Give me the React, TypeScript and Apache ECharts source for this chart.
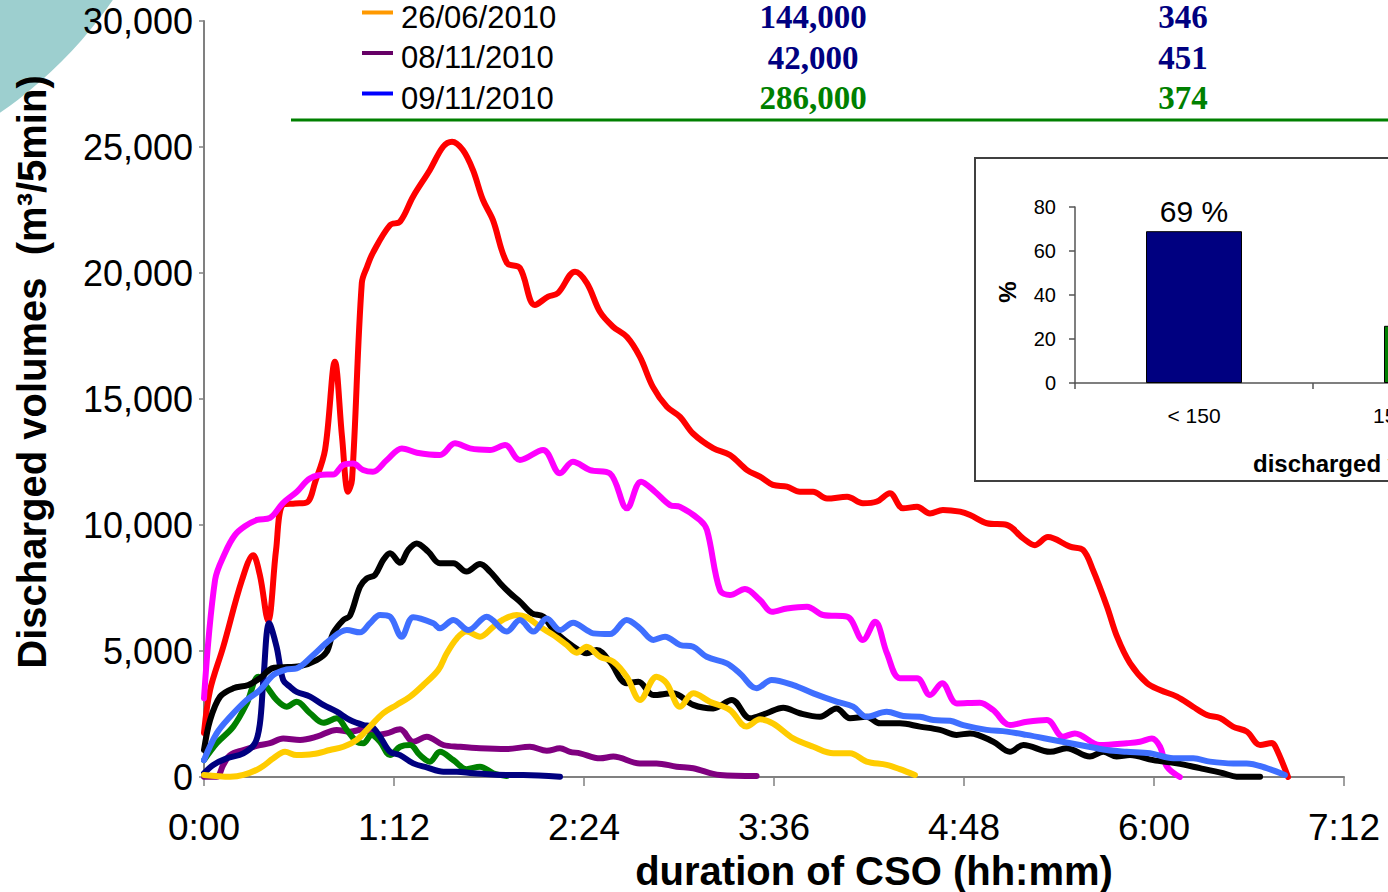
import React, { useEffect, useRef } from "react";
import * as echarts from "echarts";

// ---------- DATA (x = minutes since start of CSO, y = m3 per 5 min) ----------
const xTickStep = 72; // minutes between tick labels (1:12)
const xMaxMinutes = 432; // 7:12
const yMaxVolume = 30000;
const yStep = 5000;

const redSeries: [number, number][] = [
  [0, 1750], [2.3, 3450], [7.3, 5170], [14.4, 7820], [18.6, 8800], [21.2, 8000], [24.3, 6200],
  [27.3, 9000], [29.9, 10800], [34.5, 10850], [39.0, 10900], [42.1, 11700], [45.9, 13000],
  [49.6, 16480], [52.3, 13500], [54.6, 11320], [56.1, 11800], [59.8, 19600], [61.8, 20250],
  [64.0, 20800], [70.5, 21900], [74.3, 22040], [79.2, 23030], [85.6, 24090], [90.6, 25010],
  [94.0, 25210], [98.1, 24880], [101.9, 24090], [105.7, 22900], [109.5, 22100], [114.8, 20400],
  [119.7, 20200], [125.4, 18730], [130.4, 19060], [134.1, 19200], [140.6, 20050], [145.1, 19600],
  [150.1, 18450], [155.0, 17870], [160.3, 17460], [165.2, 16670], [170.1, 15480], [175.4, 14690],
  [180.4, 14290], [185.3, 13630], [192.9, 13050], [199.3, 12780], [205.8, 12180], [210.7, 11920],
  [215.6, 11590], [220.9, 11520], [225.8, 11320], [230.8, 11320], [236.1, 11050], [243.7, 11120],
  [249.7, 10860], [255.0, 10930], [259.9, 11260], [264.9, 10660], [270.2, 10720], [275.1, 10460],
  [280.0, 10600], [286.5, 10530], [290.3, 10400], [296.7, 10070], [304.3, 10000], [310.3, 9480],
  [314.9, 9200], [319.8, 9520], [328.2, 9140], [333.1, 9010], [336.9, 8210], [342.2, 6760],
  [346.0, 5570], [350.9, 4520], [357.3, 3730], [362.3, 3450], [368.7, 3190], [374.8, 2790],
  [380.1, 2460], [385.0, 2340], [389.9, 2000], [395.2, 1800], [400.2, 1270], [404.7, 1350],
  [406.6, 1070], [410.8, 0],
];

const magentaSeries: [number, number][] = [
  [0, 3120], [4.2, 7820], [8.0, 8900], [11.7, 9600], [15.5, 9950], [20.1, 10200], [25.0, 10280],
  [29.9, 10870], [35.2, 11320], [40.2, 11850], [46.6, 12000], [48.9, 12000], [52.7, 12380],
  [56.5, 12440], [60.3, 12180], [64.0, 12110], [69.3, 12580], [75.0, 13040], [80.7, 12870],
  [89.4, 12780], [95.1, 13240], [100.8, 13040], [108.4, 12980], [114.1, 13170], [119.7, 12580],
  [128.5, 12980], [134.9, 12050], [139.8, 12510], [146.3, 12180], [153.8, 12050], [160.3, 10660],
  [165.6, 11720], [170.9, 11320], [176.6, 10790], [180.4, 10720], [187.9, 10200], [190.6, 9800],
  [195.5, 7420], [199.3, 7220], [205.0, 7460], [210.7, 7020], [215.2, 6560], [220.9, 6690],
  [228.5, 6760], [234.6, 6430], [243.7, 6360], [249.7, 5440], [254.3, 6160], [258.8, 4910],
  [263.7, 3920], [270.2, 3920], [275.1, 3250], [279.7, 3720], [285.3, 2920], [294.0, 2950],
  [299.0, 2660], [305.4, 2060], [311.9, 2190], [319.4, 2260], [325.5, 1600], [330.0, 1730],
  [339.5, 1270], [349.7, 1340], [354.7, 1400], [359.2, 1530], [362.3, 1200], [364.9, 410],
  [369.8, 0],
];

const blackSeries: [number, number][] = [
  [0, 1070], [2.3, 2260], [6.1, 3190], [11.1, 3520], [16.8, 3650], [21.2, 3920], [25.7, 4310],
  [28.8, 4350], [36.4, 4400], [42.7, 4640], [46.5, 4970], [48.9, 5700], [52.8, 6230], [55.3, 6400],
  [59.1, 7550], [61.7, 7880], [64.8, 8020], [67.9, 8610], [70.5, 8880], [74.3, 8500], [77.4, 9010],
  [80.6, 9270], [85.0, 8940], [89.4, 8480], [94.5, 8480], [99.5, 8150], [104.6, 8450], [108.4, 8150],
  [112.2, 7690], [116.0, 7290], [119.7, 6960], [124.2, 6500], [128.6, 6360], [132.4, 5830],
  [137.4, 5370], [142.5, 5000], [145.0, 4910], [148.8, 5040], [153.8, 4580], [160.2, 3720],
  [164.6, 3780], [170.3, 3250], [177.8, 3320], [185.4, 2860], [193.0, 2720], [200.0, 3060],
  [206.9, 2330], [213.2, 2530], [219.5, 2750], [225.8, 2530], [233.4, 2390], [239.7, 2720],
  [244.8, 2330], [251.1, 2390], [256.2, 2130], [263.7, 2130], [271.3, 2000], [278.9, 1870],
  [285.2, 1670], [290.3, 1730], [299.1, 1400], [305.4, 1000], [310.5, 1270], [320.6, 1000],
  [326.9, 1140], [335.7, 810], [340.8, 1000], [345.8, 810], [350.9, 870], [359.7, 670],
  [368.6, 540], [377.4, 350], [386.2, 150], [391.3, 10], [400.2, 10],
];

const blueSeries: [number, number][] = [
  [0, 670], [4.8, 1730], [9.9, 2390], [16.2, 3060], [21.2, 3450], [26.3, 4050], [31.3, 4270],
  [35.1, 4310], [41.4, 4840], [47.7, 5440], [54.1, 5830], [59.1, 5740], [62.9, 6100], [66.7, 6430],
  [70.5, 6360], [74.9, 5570], [79.3, 6340], [86.9, 6100], [89.4, 5900], [94.5, 6230], [100.2, 5830],
  [107.1, 6360], [114.7, 5770], [119.7, 6230], [124.8, 5770], [129.9, 6290], [134.9, 5830],
  [139.9, 6120], [145.0, 5830], [147.5, 5700], [153.8, 5670], [160.2, 6230], [165.2, 5900],
  [170.3, 5440], [174.7, 5570], [180.4, 5240], [185.4, 5170], [190.5, 4770], [198.1, 4510],
  [203.1, 4110], [209.4, 3520], [215.1, 3850], [223.3, 3650], [230.9, 3320], [239.7, 2990],
  [246.0, 2790], [251.1, 2390], [258.7, 2590], [265.0, 2420], [271.3, 2390], [276.4, 2260],
  [282.7, 2230], [287.7, 2060], [296.6, 1870], [304.2, 1800], [311.7, 1670], [321.8, 1470],
  [331.9, 1270], [342.1, 1070], [349.6, 1000], [358.5, 940], [367.3, 740], [374.9, 740],
  [381.2, 610], [390.0, 540], [395.1, 540], [402.7, 350], [409.6, 80],
];

const yellowSeries: [number, number][] = [
  [0, 80], [9.9, 10], [14.9, 80], [21.2, 350], [26.3, 740], [30.7, 1000], [35.1, 870], [41.4, 910],
  [47.7, 1070], [52.8, 1200], [57.9, 1470], [62.9, 2000], [67.9, 2530], [73.0, 2860], [78.1, 3190],
  [83.1, 3650], [88.8, 4250], [92.0, 4910], [95.8, 5500], [99.5, 5770], [104.6, 5570],
  [109.6, 5960], [113.4, 6250], [118.5, 6430], [122.3, 6340], [127.3, 5960], [132.4, 5630],
  [137.4, 5240], [141.2, 4930], [145.0, 5170], [150.1, 4770], [155.1, 4580], [160.2, 3980],
  [165.2, 3060], [171.5, 3980], [175.3, 3720], [180.4, 2790], [185.4, 3320], [191.7, 2990],
  [199.3, 2660], [205.6, 2000], [210.7, 2290], [215.7, 2120], [223.3, 1530], [230.9, 1200],
  [238.5, 940], [244.8, 940], [251.1, 610], [258.7, 480], [263.7, 310], [269.4, 80],
];

const purpleSeries: [number, number][] = [
  [0, 10], [4.8, 10], [7.3, 480], [9.9, 870], [14.9, 1070], [21.2, 1270], [25.0, 1340], [30.0, 1530],
  [36.4, 1470], [42.7, 1600], [50.3, 1870], [55.3, 1800], [60.4, 1890], [65.4, 1670], [69.2, 1730],
  [74.3, 1890], [79.3, 1400], [84.4, 1600], [90.7, 1270], [97.0, 1200], [104.6, 1140],
  [114.7, 1110], [123.5, 1200], [129.9, 1040], [134.9, 1140], [138.7, 1000], [142.5, 940],
  [150.1, 740], [155.1, 810], [165.2, 540], [171.5, 540], [179.1, 410], [185.4, 350], [195.5, 80],
  [209.4, 40],
];

const greenSeries: [number, number][] = [
  [0, 670], [4.8, 1340], [11.1, 2000], [16.2, 2920], [20.6, 3980], [23.8, 3580], [27.5, 3060],
  [31.3, 2790], [35.1, 2990], [40.2, 2530], [45.2, 2150], [50.3, 2330], [54.1, 1870], [57.9, 1400],
  [60.4, 1340], [63.5, 1670], [66.7, 1400], [70.5, 870], [74.3, 1200], [78.1, 1270], [81.8, 870],
  [85.6, 610], [89.4, 1000], [94.5, 670], [99.5, 310], [104.6, 410], [109.6, 150], [114.7, 40],
];

const navySeries: [number, number][] = [
  [0, 150], [3.5, 480], [8.6, 740], [14.9, 940], [19.3, 1340], [21.2, 2130], [22.5, 3850],
  [24.7, 6100], [27.5, 5170], [30.0, 3850], [32.6, 3580], [35.1, 3380], [40.2, 3190], [45.2, 2860],
  [50.3, 2590], [55.3, 2260], [60.4, 2060], [63.5, 2000], [66.7, 1600], [70.5, 1000], [74.3, 870],
  [79.3, 540], [84.4, 380], [90.7, 210], [95.8, 210], [102.0, 150], [114.7, 80], [121.0, 80],
  [134.9, 10],
];

// legend table (top)
const legendDates = ["26/06/2010", "08/11/2010", "09/11/2010"];
const legendMarkColors = ["#FF9900", "#660066", "#0000FF"];
const legendVolumes = ["144,000", "42,000", "286,000"];
const legendDurations = ["346", "451", "374"];
const legendValueColors = ["#000080", "#000080", "#008000"];

// inset bar chart
const insetCategories = ["< 150", "150 - 10,000", "> 10,000"];
const insetValues = [69, 26, 5];
const insetColors = ["#000080", "#008000", "#FFFF00"];

// ---------- STYLE ----------
const SANS = "'Liberation Sans', Arial, Helvetica, sans-serif";
const SERIF = "'Liberation Serif', 'Times New Roman', serif";

const lineDefs = [
  { name: "red", color: "#FF0000", data: redSeries },
  { name: "magenta", color: "#FF00FF", data: magentaSeries },
  { name: "purple", color: "#800080", data: purpleSeries },
  { name: "green", color: "#008000", data: greenSeries },
  { name: "navy", color: "#000080", data: navySeries },
  { name: "black", color: "#000000", data: blackSeries },
  { name: "yellow", color: "#FFCC00", data: yellowSeries },
  { name: "blue", color: "#3F6FFF", data: blueSeries },
];

const fmtTime = (v: number) =>
  `${Math.floor(v / 60)}:${String(Math.round(v % 60)).padStart(2, "0")}`;
const fmtThousands = (v: number) => v.toLocaleString("en-US");

function text(
  t: string,
  x: number,
  y: number,
  o: {
    size: number;
    weight?: string;
    family?: string;
    fill?: string;
    align?: string;
    valign?: string;
    rotation?: number;
  }
) {
  const align = o.align || "left";
  const valign = o.valign || "middle";
  return {
    type: "text",
    x,
    y,
    rotation: o.rotation || 0,
    z: 20,
    silent: true,
    style: {
      text: t,
      fill: o.fill || "#000",
      fontSize: o.size,
      fontWeight: o.weight || "normal",
      fontFamily: o.family || SANS,
      align,
      verticalAlign: valign,
      textAlign: align,
      textVerticalAlign: valign,
    },
  };
}

function buildOption() {
  const legendGraphics: any[] = [];
  legendDates.forEach((d, i) => {
    const cy = 17 + i * 40.5;
    legendGraphics.push({
      type: "line",
      z: 20,
      shape: { x1: 362, y1: cy - 4.5, x2: 393, y2: cy - 4.5 },
      style: { stroke: legendMarkColors[i], lineWidth: 4 },
    });
    legendGraphics.push(text(d, 401, cy, { size: 31 }));
    legendGraphics.push(
      text(legendVolumes[i], 813, cy, {
        size: 33,
        weight: "bold",
        family: SERIF,
        fill: legendValueColors[i],
        align: "center",
      })
    );
    legendGraphics.push(
      text(legendDurations[i], 1183, cy, {
        size: 33,
        weight: "bold",
        family: SERIF,
        fill: legendValueColors[i],
        align: "center",
      })
    );
  });

  const axisGrey = "#808080";

  return {
    animation: false,
    backgroundColor: "#ffffff",
    textStyle: { fontFamily: SANS },
    grid: [
      { left: 204, top: 21, width: 1140, height: 756 },
      { left: 1075, top: 207, width: 714, height: 176 },
    ],
    xAxis: [
      {
        gridIndex: 0,
        type: "value",
        min: 0,
        max: xMaxMinutes,
        interval: xTickStep,
        axisLine: { show: true, lineStyle: { color: axisGrey, width: 2 } },
        axisTick: { show: true, length: 9, lineStyle: { color: axisGrey, width: 1.5 } },
        axisLabel: { formatter: fmtTime, fontSize: 37, color: "#000", margin: 32, fontFamily: SANS },
        splitLine: { show: false },
      },
      {
        gridIndex: 1,
        type: "category",
        data: insetCategories,
        axisLine: { show: true, lineStyle: { color: "#555", width: 1.5 } },
        axisTick: { show: true, length: 6, lineStyle: { color: "#555", width: 1.5 } },
        axisLabel: { fontSize: 21, color: "#000", margin: 22, interval: 0, fontFamily: SANS },
        splitLine: { show: false },
      },
    ],
    yAxis: [
      {
        gridIndex: 0,
        type: "value",
        min: 0,
        max: yMaxVolume,
        interval: yStep,
        axisLine: { show: true, lineStyle: { color: axisGrey, width: 2 } },
        axisTick: { show: true, length: 5, lineStyle: { color: axisGrey, width: 1.5 } },
        axisLabel: { formatter: fmtThousands, fontSize: 36, color: "#000", margin: 11, fontFamily: SANS },
        splitLine: { show: false },
      },
      {
        gridIndex: 1,
        type: "value",
        min: 0,
        max: 80,
        interval: 20,
        axisLine: { show: true, lineStyle: { color: "#555", width: 1.5 } },
        axisTick: { show: true, length: 6, lineStyle: { color: "#555", width: 1.5 } },
        axisLabel: { fontSize: 20, color: "#000", margin: 19, fontFamily: SANS },
        splitLine: { show: false },
      },
    ],
    series: [
      ...lineDefs.map((d) => ({
        name: d.name,
        type: "line",
        xAxisIndex: 0,
        yAxisIndex: 0,
        data: d.data,
        showSymbol: false,
        symbol: "none",
        smooth: 0.35,
        lineStyle: { color: d.color, width: 6, cap: "round", join: "round" },
        itemStyle: { color: d.color },
        clip: true,
        silent: true,
      })),
      {
        name: "share",
        type: "bar",
        xAxisIndex: 1,
        yAxisIndex: 1,
        barWidth: 96,
        data: insetValues.map((v, i) => ({ value: v, itemStyle: { color: insetColors[i] } })),
        itemStyle: { borderColor: "#000", borderWidth: 1 },
        label: {
          show: true,
          position: "top",
          distance: 5,
          formatter: "{c} %",
          fontSize: 30,
          color: "#000",
          fontFamily: SANS,
        },
        silent: true,
      },
    ],
    graphic: {
      elements: [
        {
          type: "circle",
          z: -10,
          silent: true,
          shape: { cx: -251, cy: -251, r: 442 },
          style: { fill: "#9DCFCF" },
        },
        {
          type: "rect",
          z: -5,
          silent: true,
          shape: { x: 975, y: 158, width: 760, height: 323 },
          style: { fill: "#ffffff", stroke: "#404040", lineWidth: 2 },
        },
        {
          type: "line",
          z: 20,
          silent: true,
          shape: { x1: 291, y1: 120, x2: 1600, y2: 120 },
          style: { stroke: "#008000", lineWidth: 3 },
        },
        ...legendGraphics,
        text("Discharged volumes  (m³/5min)", 32, 372, {
          size: 40,
          weight: "bold",
          align: "center",
          rotation: Math.PI / 2,
        }),
        text("duration of CSO (hh:mm)", 874, 871, { size: 40, weight: "bold", align: "center" }),
        text("%", 1007, 292, { size: 24, weight: "bold", align: "center", rotation: Math.PI / 2 }),
        text("discharged volumes (m³)", 1253, 463, { size: 24, weight: "bold" }),
      ],
    },
  };
}

export default function App() {
  const ref = useRef<HTMLDivElement>(null);
  useEffect(() => {
    if (!ref.current) return;
    const chart = echarts.init(ref.current, undefined, { renderer: "svg" });
    chart.setOption(buildOption() as any);
    return () => chart.dispose();
  }, []);
  return (
    <div
      style={{
        position: "fixed",
        left: 0,
        top: 0,
        width: 1388,
        height: 892,
        background: "#fff",
        overflow: "hidden",
      }}
    >
      <div ref={ref} style={{ width: 1800, height: 892 }} />
    </div>
  );
}
